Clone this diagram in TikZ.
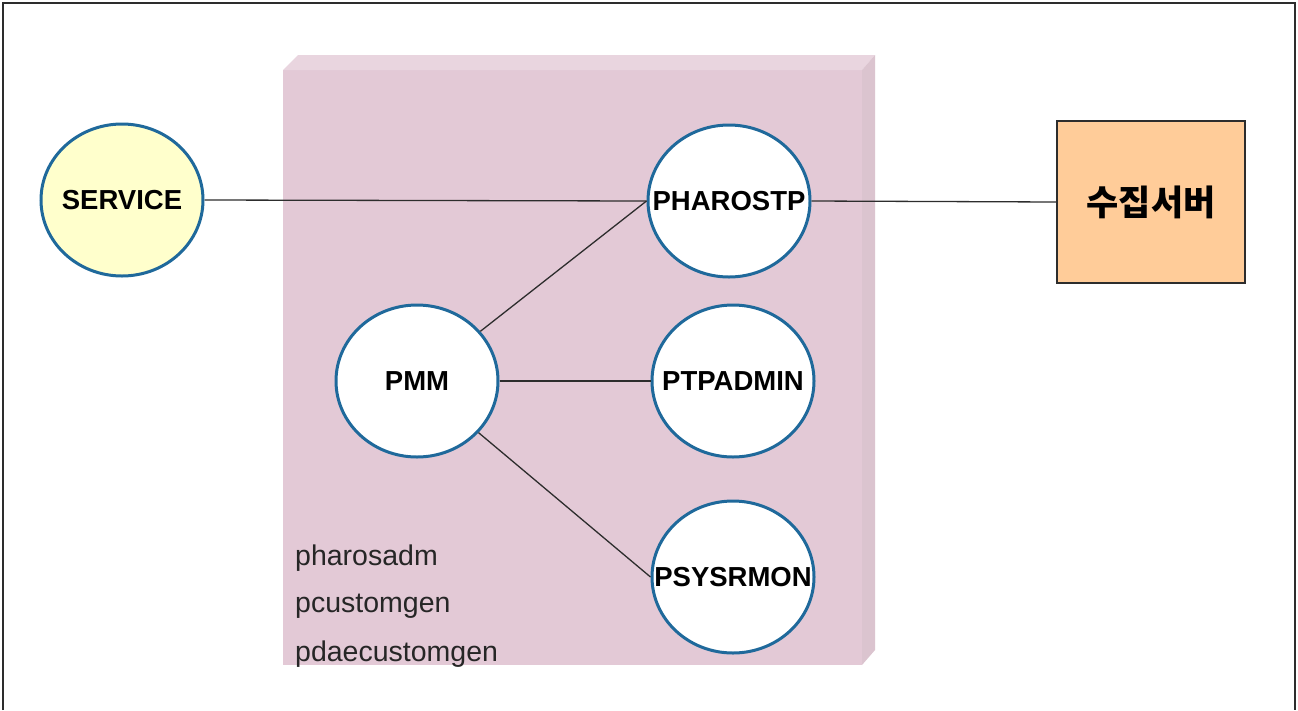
\documentclass[tikz,border=0pt]{standalone}
\usepackage{fontspec}
\setmainfont{Liberation Sans}
\newfontfamily\krfont{Noto Sans CJK KR}
\usetikzlibrary{shapes.geometric}
\definecolor{ringblue}{RGB}{31,105,155}
\definecolor{linegray}{RGB}{45,45,45}
\definecolor{pinkfront}{RGB}{227,201,214}
\definecolor{pinktop}{RGB}{233,213,223}
\definecolor{pinkside}{RGB}{219,196,207}
\definecolor{svcyellow}{RGB}{255,255,204}
\definecolor{srvorange}{RGB}{255,204,153}
\tikzset{
  proc/.style={ellipse, draw=ringblue, line width=3pt, fill=white,
    minimum width=162pt, minimum height=152pt, inner sep=0pt},
  proclabel/.style={font=\fontsize{27.5}{30}\selectfont\bfseries, text=black},
  conn/.style={draw=linegray, line width=1.3pt},
  note/.style={anchor=west, font=\fontsize{28.5}{32}\selectfont, text=black!85, inner sep=0pt}
}
\begin{document}
\begin{tikzpicture}[x=1pt,y=-1pt]
\useasboundingbox (0,0) rectangle (1298,710);
\fill[white] (0,0) rectangle (1298,710);
% outer frame
\draw[linegray, line width=2.5pt] (3,710) -- (3,3) -- (1295,3) -- (1295,710);
% 3D pink block
\fill[pinkfront] (283,70) rectangle (862,665);
\fill[pinktop] (283,70) -- (298,55) -- (875,55) -- (862,70) -- cycle;
\fill[pinkside] (862,70) -- (875,55) -- (875,650) -- (862,665) -- cycle;
% nodes
\node[proc, fill=svcyellow, label={[proclabel]center:SERVICE}] (svc) at (122,200) {};
\node[proc, label={[proclabel]center:PHAROSTP}] (ph) at (729,201) {};
\node[proc, label={[proclabel]center:PTPADMIN}] (pt) at (733,381) {};
\node[proc, label={[proclabel]center:PMM}] (pmm) at (417,381) {};
\node[proc, label={[proclabel]center:PSYSRMON}] (ps) at (733,577) {};
\node[draw=linegray, line width=2pt, fill=srvorange, minimum width=188pt, minimum height=162pt,
  inner sep=0pt, font=\krfont\fontsize{35}{38}\selectfont\bfseries] (srv) at (1151,202) {수집서버};
% connectors
\draw[conn] (svc.east) -- (ph.west);
\draw[conn] (ph.east) -- (srv.west);
\draw[conn] (pmm) -- (ph.west);
\draw[conn] (pmm.east) -- (pt.west);
\draw[conn] (pmm) -- (ps.west);
% notes
\node[note] (n1) at (295,558) {pharosadm};
\node[note] (n2) at (295,606) {pcustomgen};
\node[note] (n3) at (295,654) {pdaecustomgen};
\end{tikzpicture}
\end{document}
